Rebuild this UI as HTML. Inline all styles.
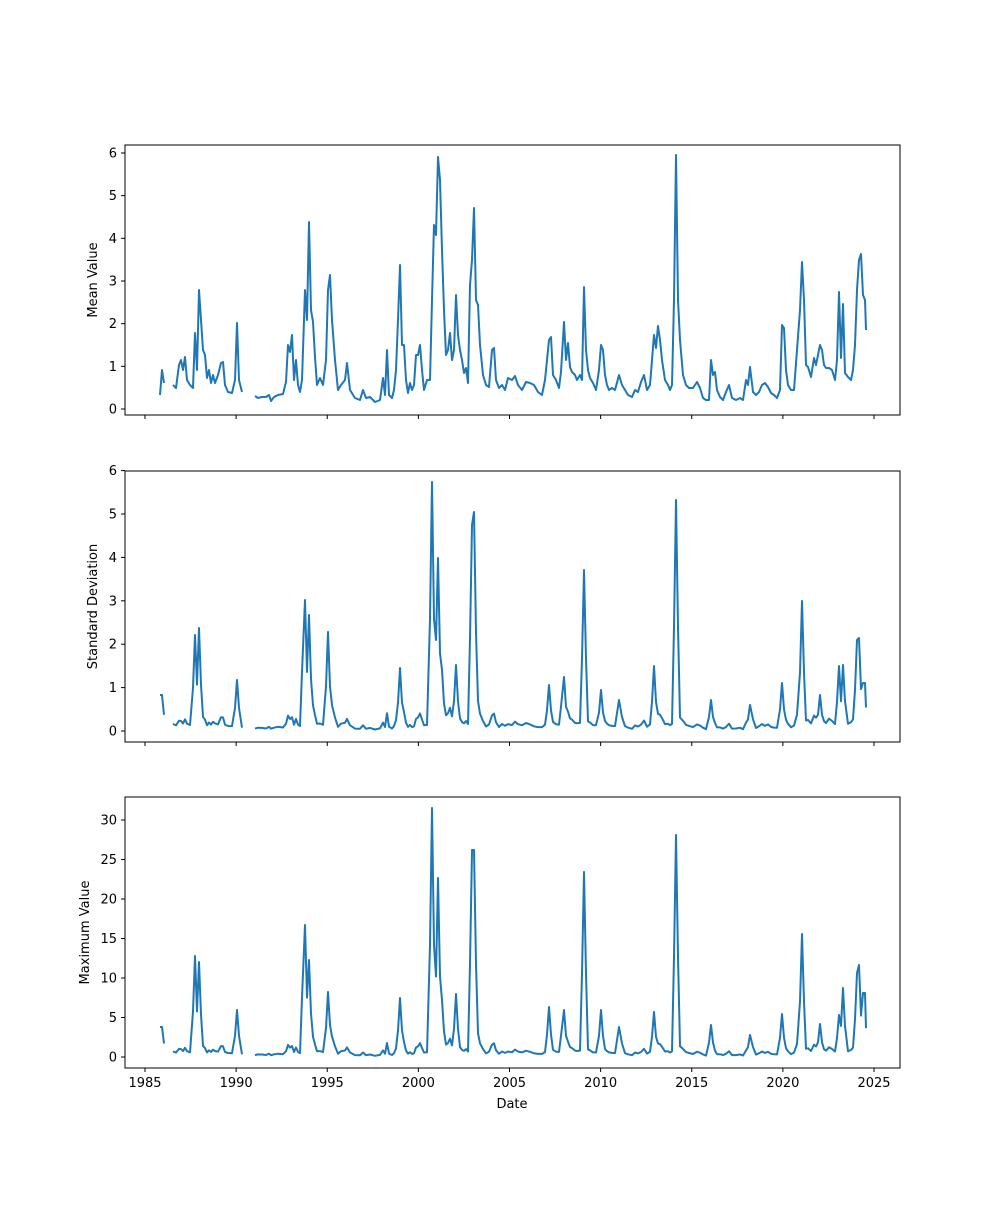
<!DOCTYPE html>
<html><head><meta charset="utf-8"><style>
html,body{margin:0;padding:0;background:#fff;}
svg text{font-family:"DejaVu Sans","Liberation Sans",sans-serif;font-size:13px;fill:#000;}
</style></head><body>
<svg id="s" width="1000" height="1200" xmlns="http://www.w3.org/2000/svg"></svg>
<script>
const S=document.getElementById('s');let h='';
const X0=125,X1=900;
const xy=y=>145+(y-1985)*18.225;
const panels=[{t:145,b:415,z:409,u:42.67,ticks:[0,1,2,3,4,5,6],lab:'Mean Value'},
{t:471,b:742,z:731,u:43.4,ticks:[0,1,2,3,4,5,6],lab:'Standard Deviation'},
{t:797,b:1068,z:1057,u:7.9,ticks:[0,5,10,15,20,25,30],lab:'Maximum Value'}];
const p1=`160,395 162,370 164,383 | 173,385 176,388 179,365 181,360 183,370 185,357 187,380 190,385 193,388 195,333 197,370 199,290 201,320 203,350 205,355 207,378 209,370 211,383 213,375 215,383 218,375 221,363 223,362 225,385 228,392 232,393 235,380 237,323 239,380 242,392 | 255,396 258,398 262,397 266,397 269,395 271,401 274,397 278,395 283,394 286,382 288,345 290,352 292,335 294,380 296,360 298,385 300,392 302,380 305,290 307,320 309,222 311,310 313,322 315,357 317,385 320,378 323,385 326,360 328,290 330,275 332,320 335,360 338,390 341,385 345,380 347,363 350,390 355,398 360,400 363,390 366,398 370,397 375,402 380,400 383,378 385,395 387,350 389,395 392,398 394,390 396,370 398,320 400,265 402,345 404,345 406,380 408,393 410,383 412,390 414,385 416,355 418,355 420,345 422,370 424,390 427,380 430,380 432,300 434,225 436,235 438,157 440,180 442,250 444,310 446,355 448,350 450,333 452,360 454,350 456,295 458,335 460,350 462,360 464,373 466,368 468,383 470,285 472,260 474,208 476,300 478,305 480,345 483,375 486,385 489,387 492,350 494,348 496,380 499,388 502,385 505,390 508,378 512,380 515,376 518,385 522,390 526,382 530,383 534,385 538,392 542,395 545,380 547,360 549,340 551,337 553,375 556,380 559,388 561,372 564,322 566,360 568,343 570,367 572,372 575,375 577,380 580,375 582,380 584,287 586,350 588,370 590,378 593,383 596,390 599,370 601,345 603,350 605,375 607,385 609,390 612,388 615,390 619,375 622,385 625,390 628,395 632,397 635,390 638,392 641,382 644,375 647,390 650,385 652,360 654,335 656,348 658,326 660,340 662,360 665,380 668,385 670,390 672,385 674,300 676,155 678,300 680,340 683,375 686,385 689,388 693,388 697,382 700,388 703,398 706,400 709,400 711,360 713,375 715,372 717,390 720,397 723,400 726,392 729,385 732,398 736,400 740,398 743,400 746,380 748,385 750,367 753,392 756,395 759,392 762,385 765,383 768,387 771,393 774,395 777,398 780,390 782,325 784,328 786,370 788,385 791,390 794,390 797,350 800,310 802,262 804,300 806,365 808,367 811,377 814,358 816,365 818,355 820,345 822,350 824,365 826,368 829,368 832,370 835,380 837,360 839,292 841,358 843,304 845,373 848,377 851,380 853,370 855,345 857,290 859,260 861,254 863,295 865,300 866,330`;
const pk2=[[161,695],[195,635],[199,628],[237,680],[305,600],[309,615],[328,632],[400,668],[432,482],[436,640],[438,558],[442,670],[456,665],[472,525],[474,512],[549,685],[564,677],[584,570],[601,690],[620,700],[654,666],[676,500],[711,700],[750,705],[782,683],[802,601],[820,695],[839,666],[843,665],[857,640],[859,638],[862,700],[864,683],[866,727]];
const pk3=[[161,1027],[195,956],[199,962],[237,1010],[305,925],[309,960],[328,992],[400,998],[432,808],[434,960],[438,878],[442,1000],[456,994],[472,850],[474,850],[549,1007],[564,1010],[584,872],[601,1010],[620,1027],[654,1012],[676,835],[711,1025],[750,1035],[782,1014],[802,934],[820,1024],[839,1015],[843,988],[857,973],[859,965],[862,1040],[864,993],[866,1042]];
const segs=p1.split('|').map(s=>s.trim().split(/\s+/).map(q=>q.split(',').map(Number)));
// panel frames
panels.forEach((p,i)=>{
 h+=`<rect x="${X0}" y="${p.t}" width="${X1-X0}" height="${p.b-p.t}" fill="none" stroke="#000" stroke-width="1"/>`;
 p.ticks.forEach(v=>{const y=p.z-v*p.u;h+=`<line x1="${X0-4}" x2="${X0}" y1="${y}" y2="${y}" stroke="#000"/><text x="${X0-8}" y="${y+4.5}" text-anchor="end">${v}</text>`;});
 for(let yr=1985;yr<=2025;yr+=5){const x=xy(yr);h+=`<line x1="${x}" x2="${x}" y1="${p.b}" y2="${p.b+4}" stroke="#000"/>`;if(i==2)h+=`<text x="${x}" y="${p.b+19}" text-anchor="middle">${yr}</text>`;}
 const cy=(p.t+p.b)/2;const lx=i==2?89:i==1?97:97;
 h+=`<text transform="translate(${lx},${cy}) rotate(-90)" text-anchor="middle">${p.lab}</text>`;
});
h+=`<text x="512" y="1108" text-anchor="middle">Date</text>`;
function draw(pts){h+=`<polyline points="${pts.map(q=>q[0]+','+q[1].toFixed(1)).join(' ')}" fill="none" stroke="#1f77b4" stroke-width="2" stroke-linejoin="round"/>`;}
segs.forEach(s=>draw(s));
function derived(pk,p,f){
 segs.forEach(s=>{
  const out=s.map(([x,y])=>{
   const m=(409-y)/42.67;let v=p.z-f*m*p.u*(0.6+0.4*Math.abs(Math.sin(x*1.7)));
   pk.forEach(([px,py])=>{if(Math.abs(px-x)<=1.5)v=Math.min(v,py);else if(Math.abs(px-x)<=3.5)v=Math.min(v,p.z-(p.z-py)*0.45);});
   return [x,v];});
  draw(out);});
}
derived(pk2,panels[1],0.3);
derived(pk3,panels[2],1.3);
S.innerHTML=h;
</script>
</body></html>
